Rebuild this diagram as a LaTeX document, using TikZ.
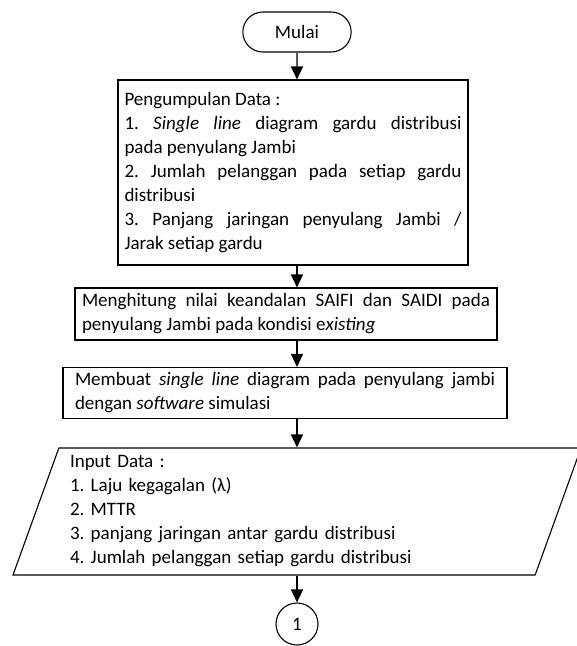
\documentclass[tikz,border=0pt]{standalone}
\usepackage{fontspec}
\setmainfont{Carlito}
\usetikzlibrary{arrows.meta,shapes.geometric,shapes.misc}
\setlength{\parindent}{0pt}
\frenchspacing

\begin{document}
\begin{tikzpicture}[x=1pt,y=-1pt,
    teks/.style={font=\fontsize{19}{24}\selectfont},
    terminal/.style={draw, line width=1.1pt, rounded rectangle, minimum width=115, minimum height=40, teks},
    proses/.style={draw, line width=1.1pt, rectangle, inner sep=4, align=justify, teks},
    masukan/.style={draw, line width=1.1pt, trapezium, trapezium left angle=69, trapezium right angle=111,
        trapezium stretches body, inner sep=4, align=left, teks},
    panah/.style={line width=1.1pt, -{Triangle[width=12pt,length=13pt]}}]
    \useasboundingbox (0,0) rectangle (577,646);

    % Mulai
    \node[terminal] (mulai) at (297,32) {Mulai};

    % Pengumpulan data
    \node[proses, minimum width=350, minimum height=185, text width=337] (data) at (293,172.5) {%
        Pengumpulan Data :\\
        1. \textit{Single line} diagram gardu distribusi\linebreak
        pada penyulang Jambi\\
        2. Jumlah pelanggan pada setiap gardu\linebreak
        distribusi\\
        3. Panjang jaringan penyulang Jambi /\linebreak
        Jarak setiap gardu};

    % Perhitungan keandalan
    \node[proses, minimum width=422, minimum height=52, text width=408] (hitung) at (286,314) {%
        Menghitung nilai keandalan SAIFI dan SAIDI pada\linebreak
        penyulang Jambi pada kondisi e\textit{xisting}};

    % Simulasi
    \node[proses, minimum width=444, minimum height=51, text width=420] (simulasi) at (285,393) {%
        Membuat \textit{single line} diagram pada penyulang jambi\linebreak
        dengan \textit{software} simulasi};

    % Input data
    \node[masukan, minimum width=568, minimum height=127, text width=454] (input) at (297,511.5) {%
        Input Data :\\
        1. Laju kegagalan (λ)\\
        2. MTTR\\
        3. panjang jaringan antar gardu distribusi\\
        4. Jumlah pelanggan setiap gardu distribusi};

    % Penghubung
    \node[draw, line width=1.1pt, circle, minimum size=42, teks] (sambung) at (297,624) {1};

    % Panah
    \draw[panah] (mulai) -- (data.north -| mulai);
    \draw[panah] (data.south -| mulai) -- (hitung.north -| mulai);
    \draw[panah] (hitung.south -| mulai) -- (simulasi.north -| mulai);
    \draw[panah] (simulasi.south -| mulai) -- (input.north -| mulai);
    \draw[panah] (input.south -| mulai) -- (sambung);
\end{tikzpicture}
\end{document}
